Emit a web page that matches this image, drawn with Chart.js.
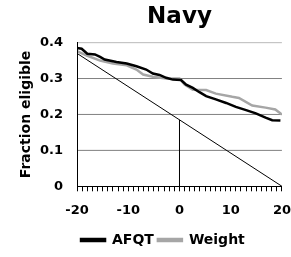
<!DOCTYPE html>
<html>
<head>
<meta charset="utf-8">
<script src="https://cdn.jsdelivr.net/npm/chart.js@4/dist/chart.umd.min.js"></script>
<style>
  html, body { margin: 0; padding: 0; background: #fff; }
  #wrap { width: 291px; height: 257px; }
</style>
</head>
<body>
<div id="wrap"><canvas id="navyChart"></canvas></div>
<script>
// values
const afqtX = [-20, -19.1, -18, -16.5, -15.5, -14.6, -12.3, -10.3, -8.4, -6.5, -5.2, -3.9, -2.6, -1.3, 0.3, 1.3, 2.6, 3.9, 5.2, 7.1, 9.1, 11, 13, 14.9, 16.8, 18.1, 19.7];
const afqtY = [0.385, 0.383, 0.369, 0.367, 0.360, 0.353, 0.346, 0.342, 0.334, 0.325, 0.314, 0.310, 0.302, 0.297, 0.296, 0.283, 0.274, 0.262, 0.251, 0.242, 0.232, 0.221, 0.212, 0.203, 0.191, 0.184, 0.183];
const weightX = [-20, -18.1, -15.5, -13, -10.3, -8.4, -7.1, -5.2, -2.6, 0, 1, 2.6, 5.2, 7.1, 10.3, 11.6, 14.2, 16.8, 18.7, 20];
const weightY = [0.376, 0.364, 0.350, 0.342, 0.337, 0.325, 0.311, 0.305, 0.300, 0.300, 0.283, 0.269, 0.268, 0.258, 0.249, 0.246, 0.225, 0.219, 0.214, 0.200];
const diagX = [-20, 20];
const diagY = [0.37, 0];
const markX = [0, 0];
const markY = [0, 0.185];
const gridY = [0.1, 0.2, 0.3, 0.4];  // horizontal guide lines at the y ticks

const toPoints = (xs, ys) => xs.map((x, i) => ({ x: x, y: ys[i] }));
const FONT = "'DejaVu Sans', sans-serif";

// guide lines go last so they are drawn under the series
const gridSets = gridY.map(g => ({
    label: 'grid',
    data: toPoints([-20, 20], [g, g]),
    borderColor: '#808080',
    borderWidth: 1,
    pointRadius: 0
}));

const ctx = document.getElementById('navyChart').getContext('2d');
new Chart(ctx, {
    type: 'line',
    data: {
        datasets: [{
            label: 'AFQT',
            data: toPoints(afqtX, afqtY),
            borderColor: '#000000',
            backgroundColor: '#000000',
            borderWidth: 2.5,
            pointRadius: 0
        }, {
            label: 'Weight',
            data: toPoints(weightX, weightY),
            borderColor: '#a6a6a6',
            backgroundColor: '#a6a6a6',
            borderWidth: 2.5,
            pointRadius: 0
        }, {
            label: 'diag',
            data: toPoints(diagX, diagY),
            borderColor: '#000000',
            borderWidth: 1,
            pointRadius: 0
        }, {
            label: 'mark',
            data: toPoints(markX, markY),
            borderColor: '#000000',
            borderWidth: 1,
            pointRadius: 0
        }].concat(gridSets)
    },
    options: {
        responsive: true,
        maintainAspectRatio: false,
        animation: false,
        layout: {
            padding: { left: 8, right: 4, top: 0, bottom: 0 }
        },
        plugins: {
            title: {
                display: true,
                text: 'Navy',
                color: '#000',
                fullSize: false,
                font: { family: FONT, size: 23, weight: 'bold' },
                padding: { top: 3, bottom: 12 }
            },
            legend: {
                position: 'bottom',
                align: 'start',
                fullSize: false,
                labels: {
                    color: '#000',
                    font: { family: FONT, size: 14, weight: 'bold' },
                    boxWidth: 24,
                    boxHeight: 2,
                    padding: 4,
                    filter: item => item.datasetIndex < 2
                }
            },
            tooltip: { enabled: false }
        },
        scales: {
            x: {
                type: 'linear',
                min: -20,
                max: 20,
                border: { color: '#000', z: 1 },
                grid: {
                    drawOnChartArea: false,
                    tickLength: 5,
                    color: '#000',
                    z: 1
                },
                ticks: {
                    stepSize: 1,
                    autoSkip: false,
                    maxRotation: 0,
                    padding: 0,
                    color: '#000',
                    font: { family: FONT, size: 13, weight: 'bold', lineHeight: 2.9 },
                    callback: v => (v % 10 === 0 ? String(v) : '')
                }
            },
            y: {
                min: 0,
                max: 0.4,
                border: { color: '#000', z: 1 },
                grid: {
                    drawOnChartArea: false,
                    drawTicks: false
                },
                ticks: {
                    stepSize: 0.1,
                    padding: 14,
                    color: '#000',
                    font: { family: FONT, size: 13, weight: 'bold' },
                    callback: v => (v === 0 ? '0' : v.toFixed(1))
                },
                title: {
                    display: true,
                    text: 'Fraction eligible',
                    color: '#000',
                    font: { family: FONT, size: 14, weight: 'bold' },
                    padding: { top: 9.6, bottom: -8.4 }
                }
            }
        }
    }
});
</script>
</body>
</html>
